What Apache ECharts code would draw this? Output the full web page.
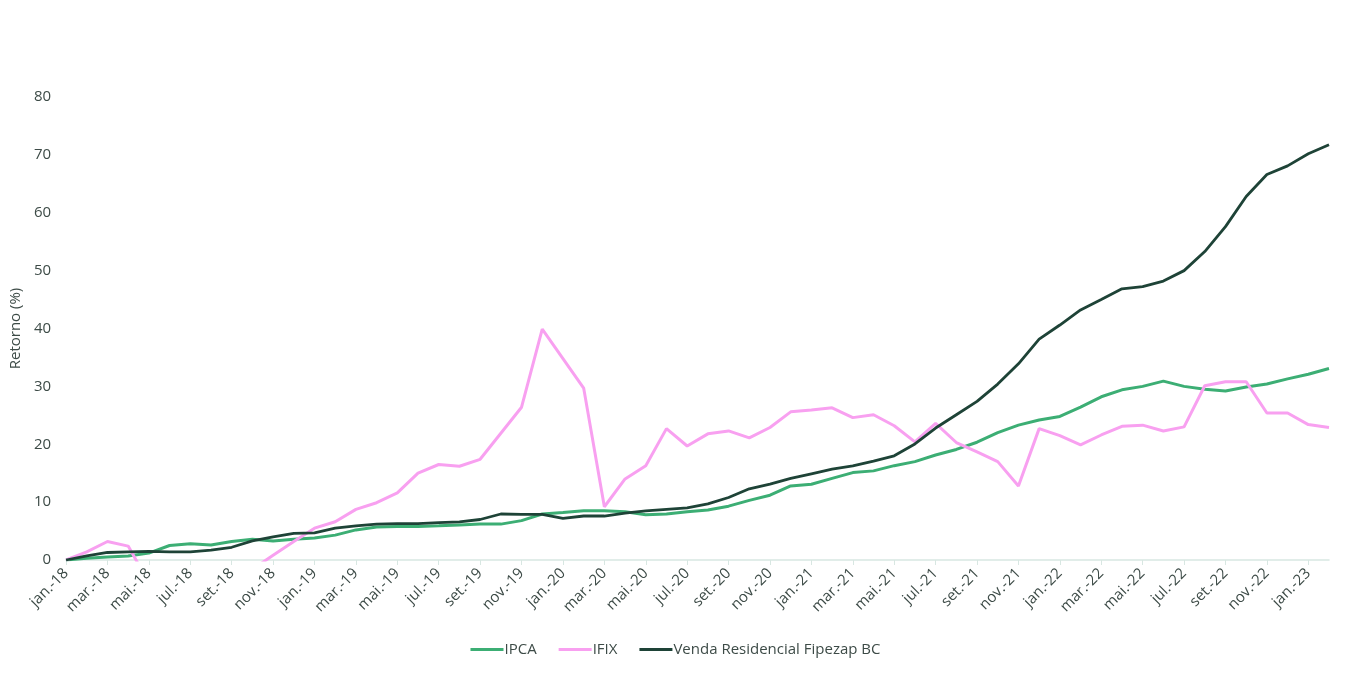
<!DOCTYPE html>
<html>
<head>
<meta charset="utf-8">
<script src="https://cdn.jsdelivr.net/npm/echarts@6/dist/echarts.min.js"></script>
<style>html,body{margin:0;padding:0;background:#fff;}#c{width:1351px;height:682px;}</style>
</head>
<body>
<div id="c"></div>
<script>
const months = ['jan.','fev.','mar.','abr.','mai.','jun.','jul.','ago.','set.','out.','nov.','dez.'];
const categories = [];
for (let y = 18; y <= 23; y++) {
  for (let m = 0; m < 12; m++) {
    if (y === 23 && m > 1) break;
    categories.push(months[m] + '-' + y);
  }
}
const ipca = [0,0.3,0.5,0.7,1.2,2.5,2.8,2.6,3.2,3.6,3.3,3.6,3.8,4.3,5.2,5.7,5.8,5.8,5.9,6.05,6.2,6.2,6.8,7.95,8.2,8.5,8.5,8.35,7.8,7.95,8.35,8.65,9.3,10.3,11.2,12.8,13.1,14.1,15.1,15.4,16.3,17.0,18.15,19.1,20.35,22.0,23.3,24.2,24.8,26.4,28.2,29.4,30.0,30.9,30.0,29.5,29.2,29.9,30.4,31.3,32.1,33.1];
const ifix = [0,1.4,3.2,2.4,-3.9,-6.5,-8.0,-7.5,-5.5,-1.6,0.8,3.2,5.5,6.6,8.75,9.9,11.6,15.0,16.5,16.2,17.4,21.9,26.4,39.9,34.8,29.7,9.2,14.0,16.3,22.7,19.7,21.8,22.3,21.1,22.9,25.6,25.9,26.3,24.6,25.1,23.2,20.4,23.6,20.3,18.7,17.0,12.8,22.7,21.5,19.9,21.6,23.1,23.3,22.3,23.0,30.1,30.8,30.8,25.4,25.4,23.4,22.9];
const fipezap = [0,0.7,1.3,1.4,1.5,1.4,1.4,1.7,2.2,3.3,4.0,4.6,4.7,5.5,5.9,6.2,6.3,6.3,6.45,6.6,7.0,7.95,7.9,7.9,7.2,7.6,7.6,8.1,8.5,8.75,9.0,9.7,10.8,12.3,13.1,14.1,14.9,15.7,16.25,17.1,18.0,20.05,22.8,25.1,27.4,30.4,33.9,38.15,40.6,43.2,45.0,46.85,47.25,48.2,50.0,53.3,57.6,62.8,66.6,68.1,70.2,71.75];
const yTicks = {min: 0, max: 80, interval: 10};

const txt = '#3d4b47';
const chart = echarts.init(document.getElementById('c'), null, {renderer: 'canvas'});
chart.setOption({
  animation: false,
  backgroundColor: '#ffffff',
  textStyle: {fontFamily: 'Open Sans', color: txt},
  grid: {left: 62, right: 22, top: 97, bottom: 122, containLabel: false},
  legend: {
    bottom: 20, left: 'center', itemWidth: 33, itemHeight: 3, itemGap: 22, icon: 'rect',
    textStyle: {fontFamily: 'Open Sans', fontSize: 15, color: txt, padding: [0,0,0,-4]},
    data: ['IPCA', 'IFIX', 'Venda Residencial Fipezap BC']
  },
  xAxis: {
    type: 'category', data: categories, boundaryGap: false,
    axisLine: {lineStyle: {color: '#d8e7e2', width: 1.5}},
    axisTick: {show: true, interval: 1, length: 5, lineStyle: {color: '#d8e7e2'}},
    axisLabel: {interval: 1, rotate: 45, fontSize: 15, color: txt, fontFamily: 'Open Sans', margin: 11}
  },
  yAxis: {
    type: 'value', min: yTicks.min, max: yTicks.max, interval: yTicks.interval,
    name: 'Retorno (%)', nameLocation: 'middle', nameGap: 40, nameRotate: 90,
    nameTextStyle: {fontSize: 15, color: txt, fontFamily: 'Open Sans'},
    axisLine: {show: false}, axisTick: {show: false}, splitLine: {show: false},
    axisLabel: {fontSize: 15, color: txt, fontFamily: 'Open Sans', margin: 15}
  },
  series: [
    {name: 'IPCA', type: 'line', data: ipca, symbol: 'none', clip: true, lineStyle: {width: 3, color: '#3cae74'}, itemStyle: {color: '#3cae74'}},
    {name: 'IFIX', type: 'line', data: ifix, symbol: 'none', clip: true, lineStyle: {width: 3, color: '#f8a0f0'}, itemStyle: {color: '#f8a0f0'}},
    {name: 'Venda Residencial Fipezap BC', type: 'line', data: fipezap, symbol: 'none', clip: true, lineStyle: {width: 2.8, color: '#1e4337'}, itemStyle: {color: '#1e4337'}}
  ]
});
</script>
</body>
</html>
